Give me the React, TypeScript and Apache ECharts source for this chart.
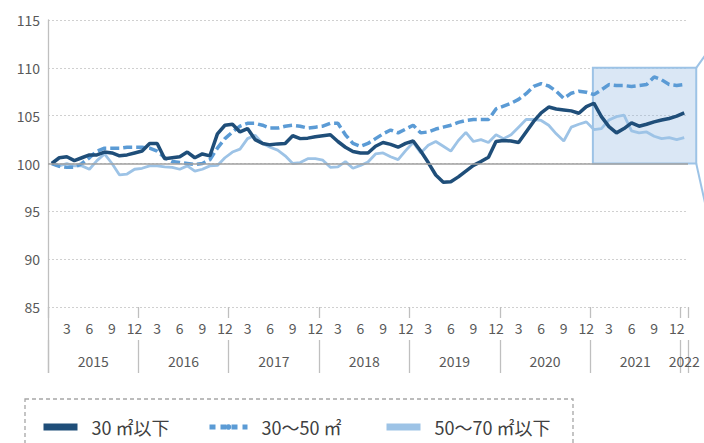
import React, { useEffect, useRef } from "react";
import * as echarts from "echarts";

// ---- data ----
const START_YEAR = 2015;
const MONTH_COUNT = 85; // 2015-01 .. 2022-01
const SHOWN_MONTHS = [3, 6, 9, 12];
const YEAR_LABELS = ["2015", "2016", "2017", "2018", "2019", "2020", "2021", "2022"];
const Y_TICKS = [85, 90, 95, 100, 105, 110, 115];

const SERIES_NAMES = ["30 ㎡以下", "30～50 ㎡", "50～70 ㎡以下"];

const UNDER_30 = [
  100.0, 100.6, 100.7, 100.3, 100.6, 100.9, 100.9, 101.2, 101.1, 100.8, 100.9, 101.1,
  101.3, 102.1, 102.1, 100.5, 100.6, 100.7, 101.2, 100.6, 101.0, 100.8, 103.1, 104.0,
  104.1, 103.3, 103.65, 102.5, 102.1, 101.95, 102.05, 102.1, 102.9, 102.6, 102.65, 102.8,
  102.9, 103.0, 102.3, 101.7, 101.25, 101.1, 101.1, 101.8, 102.2, 102.0, 101.7, 102.1,
  102.35, 101.3, 100.1, 98.8, 98.05, 98.1, 98.6, 99.2, 99.8, 100.2, 100.65, 102.3,
  102.4, 102.35, 102.2, 103.3, 104.4, 105.3, 105.9, 105.7, 105.6, 105.5, 105.25, 105.95,
  106.3, 104.9, 103.85, 103.2, 103.65, 104.25, 103.9, 104.1, 104.35, 104.55, 104.7, 104.95,
  105.3,
];

const FROM_30_TO_50 = [
  100.0, 99.7, 99.6, 99.6, 100.0, 100.6, 101.3, 101.6, 101.6, 101.6, 101.7, 101.7,
  101.7, 101.6, 101.3, 100.6, 100.2, 100.1, 100.0, 99.9, 100.0, 100.4, 101.6, 102.6,
  103.3, 103.9, 104.2, 104.2, 104.0, 103.7, 103.7, 103.9, 104.0, 103.9, 103.7, 103.8,
  103.9, 104.2, 104.2, 103.0, 102.1, 101.8, 102.1, 102.6, 103.1, 103.5, 103.2, 103.6,
  104.0, 103.2, 103.3, 103.6, 103.8, 104.0, 104.3, 104.5, 104.6, 104.6, 104.6, 105.7,
  106.0, 106.3, 106.7, 107.3, 108.05, 108.35, 108.1, 107.55, 106.8, 107.35, 107.55, 107.45,
  107.2, 107.7, 108.25, 108.15, 108.15, 108.05, 108.15, 108.25, 109.05, 108.75, 108.25, 108.15,
  108.25,
];

const FROM_50_TO_70 = [
  100.0, 99.75, 100.0, 99.75, 99.75, 99.4, 100.3, 101.0, 100.0, 98.8, 98.9, 99.4,
  99.5, 99.75, 99.75, 99.65, 99.6, 99.4, 99.75, 99.2, 99.4, 99.75, 99.8, 100.6,
  101.2, 101.5, 102.6, 102.95, 102.1, 101.7, 101.4, 100.8, 100.0, 100.1, 100.5, 100.5,
  100.35, 99.6, 99.65, 100.2, 99.5, 99.8, 100.15, 101.0, 101.1, 100.7, 100.4, 101.35,
  102.2, 101.1, 101.9, 102.3, 101.8, 101.3, 102.4, 103.25, 102.3, 102.5, 102.2, 103.0,
  102.6, 103.0, 103.8, 104.6, 104.6, 104.5, 104.0, 103.1, 102.35, 103.8, 104.1, 104.35,
  103.55, 103.65, 104.55, 104.9, 105.05, 103.4, 103.2, 103.3, 102.85, 102.6, 102.7, 102.5,
  102.7,
];

const HIGHLIGHT_FROM = "2021-01";
const HIGHLIGHT_TO = "2022-01";
const HIGHLIGHT_LOW = 100;
const HIGHLIGHT_HIGH = 110;

// ---- axis scaffolding ----
const CATEGORIES: string[] = [];
for (let i = 0; i < MONTH_COUNT; i++) {
  const y = START_YEAR + Math.floor(i / 12);
  const m = (i % 12) + 1;
  CATEGORIES.push(`${y}-${m < 10 ? "0" + m : m}`);
}
// half-month boundary positions for the year row
const HALF_COUNT = MONTH_COUNT * 2 + 1;
const HALF_CATS: string[] = [];
for (let i = 0; i < HALF_COUNT; i++) HALF_CATS.push("h" + i);
const YEAR_LABEL_AT: Record<number, string> = {};
const YEAR_TICK_AT = new Set<number>();
YEAR_LABELS.forEach((yl, k) => {
  const s = k * 12;
  const e = Math.min(s + 12, MONTH_COUNT);
  YEAR_LABEL_AT[s + e] = yl;
  YEAR_TICK_AT.add(2 * s);
  YEAR_TICK_AT.add(2 * e);
});

const FONT = "'Noto Sans CJK JP', 'Noto Sans', sans-serif";
const GRID = { left: 48, right: 16, top: 20, bottom: 136 };
const W = 704;
const H = 443;
const AXIS_GRAY = "#bfbfbf";
const LABEL_GRAY = "#595959";
const C_DARK = "#1f4e79";
const C_MID = "#5b9bd5";
const C_LIGHT = "#9dc3e6";

export default function App() {
  const ref = useRef<HTMLDivElement>(null);
  useEffect(() => {
    if (!ref.current) return;
    const chart = echarts.init(ref.current, undefined, { renderer: "svg", width: W, height: H });
    const legendCommon = {
      top: 418,
      padding: 0,
      itemHeight: 7,
      selectedMode: false,
      textStyle: { fontSize: 18, color: "#404040", fontFamily: FONT, padding: [0, 0, 0, 9] },
    };
    const option: any = {
      animation: false,
      grid: { ...GRID },
      legend: [
        { ...legendCommon, left: 40, itemWidth: 34, data: [SERIES_NAMES[0]], lineStyle: { width: 7 } },
        { ...legendCommon, left: 207, itemWidth: 38, data: [SERIES_NAMES[1]], lineStyle: { width: 5, type: [6, 5] } },
        { ...legendCommon, left: 383, itemWidth: 34, data: [SERIES_NAMES[2]], lineStyle: { width: 7 } },
      ],
      xAxis: [
        {
          type: "category",
          data: CATEGORIES,
          boundaryGap: true,
          position: "bottom",
          axisLine: { show: false },
          axisTick: {
            show: true,
            length: 11,
            interval: (i: number) => i % 12 === 0,
            lineStyle: { color: AXIS_GRAY, width: 1.3 },
          },
          axisLabel: {
            interval: 0,
            margin: 14,
            color: LABEL_GRAY,
            fontSize: 14,
            fontFamily: FONT,
            formatter: (v: string) => {
              const m = parseInt(v.slice(5), 10);
              return SHOWN_MONTHS.includes(m) ? String(m) : "";
            },
          },
          splitLine: { show: false },
        },
        {
          type: "category",
          data: HALF_CATS,
          boundaryGap: false,
          position: "bottom",
          offset: 33,
          axisLine: { show: false },
          axisTick: {
            show: true,
            length: 33,
            interval: (i: number) => YEAR_TICK_AT.has(i),
            lineStyle: { color: AXIS_GRAY, width: 1.3 },
          },
          axisLabel: {
            interval: (i: number) => YEAR_LABEL_AT[i] !== undefined,
            margin: 14,
            color: LABEL_GRAY,
            fontSize: 14,
            fontFamily: FONT,
            formatter: (_v: string, i: number) => YEAR_LABEL_AT[i] || "",
          },
          splitLine: { show: false },
        },
      ],
      yAxis: {
        type: "value",
        min: Y_TICKS[0],
        max: Y_TICKS[Y_TICKS.length - 1],
        interval: 5,
        axisLine: { show: true, lineStyle: { color: AXIS_GRAY, width: 1.3 } },
        axisTick: { show: false },
        axisLabel: { color: LABEL_GRAY, fontSize: 14, fontFamily: FONT, margin: 8 },
        splitLine: { show: true, lineStyle: { color: "#d0d0d0", type: [2, 2], width: 1 } },
      },
      series: [
        {
          name: "base",
          type: "line",
          data: [],
          silent: true,
          markLine: {
            silent: true,
            symbol: "none",
            label: { show: false },
            lineStyle: { color: "#a0a0a0", type: "solid", width: 1.6 },
            data: [{ yAxis: 100 }],
          },
        },
        {
          name: SERIES_NAMES[2],
          type: "line",
          data: FROM_50_TO_70,
          symbol: "none",
          lineStyle: { color: C_LIGHT, width: 2.8 },
          itemStyle: { color: C_LIGHT },
        },
        {
          name: SERIES_NAMES[1],
          type: "line",
          data: FROM_30_TO_50,
          symbol: "none",
          lineStyle: { color: C_MID, width: 3.5, type: [9, 4] },
          itemStyle: { color: C_MID },
        },
        {
          name: SERIES_NAMES[0],
          type: "line",
          data: UNDER_30,
          symbol: "none",
          lineStyle: { color: C_DARK, width: 3.5 },
          itemStyle: { color: C_DARK },
        },
      ],
    };
    chart.setOption(option);

    const i0 = CATEGORIES.indexOf(HIGHLIGHT_FROM);
    const i1 = CATEGORIES.indexOf(HIGHLIGHT_TO);
    const p0 = chart.convertToPixel({ gridIndex: 0 } as any, [i0, HIGHLIGHT_HIGH]) as number[];
    const p1 = chart.convertToPixel({ gridIndex: 0 } as any, [i1, HIGHLIGHT_LOW]) as number[];
    const bx0 = p0[0] - 1;
    const bx1 = p1[0] + 12;
    const by0 = p0[1];
    const by1 = p1[1];
    const gridBottom = H - GRID.bottom;

    chart.setOption({
      graphic: [
        {
          type: "rect",
          z: 1,
          silent: true,
          shape: { x: bx0, y: by0, width: bx1 - bx0, height: by1 - by0 },
          style: { fill: "rgba(150,185,225,0.35)", stroke: C_LIGHT, lineWidth: 2 },
        },
        {
          type: "line",
          z: 1,
          silent: true,
          shape: { x1: bx1, y1: by0, x2: bx1 + 20, y2: by0 - 28 },
          style: { stroke: C_LIGHT, lineWidth: 2 },
        },
        {
          type: "line",
          z: 1,
          silent: true,
          shape: { x1: bx1, y1: by1, x2: bx1 + 20, y2: by1 + 90 },
          style: { stroke: C_LIGHT, lineWidth: 2 },
        },
        {
          type: "line",
          silent: true,
          shape: { x1: GRID.left + 0.5, y1: gridBottom, x2: GRID.left + 0.5, y2: gridBottom + 66 },
          style: { stroke: AXIS_GRAY, lineWidth: 1.3 },
        },
        {
          type: "rect",
          silent: true,
          shape: { x: 25, y: 399, width: 548, height: 80 },
          style: { fill: "none", stroke: "#a6a6a6", lineWidth: 1.3, lineDash: [4, 3] },
        },
      ],
    });

    return () => chart.dispose();
  }, []);
  return (
    <div
      ref={ref}
      style={{ position: "fixed", left: 0, top: 0, width: W, height: H, background: "#fff" }}
    />
  );
}
